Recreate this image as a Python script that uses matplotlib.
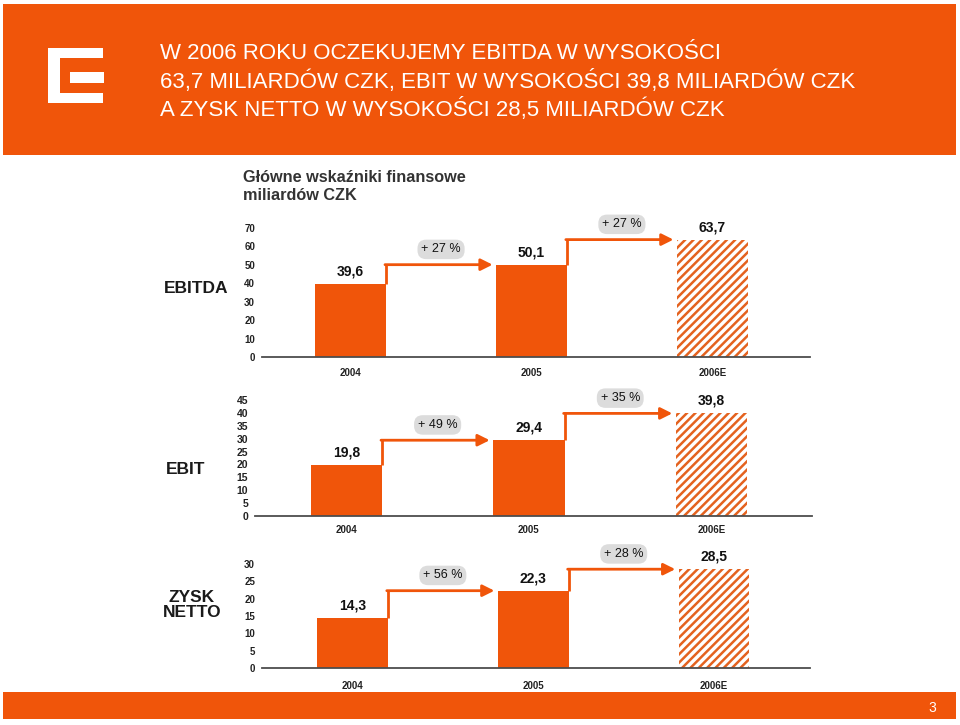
import matplotlib.pyplot as plt
from matplotlib.patches import Rectangle

plt.rcParams['font.family'] = ['Liberation Sans', 'DejaVu Sans']
plt.rcParams['hatch.linewidth'] = 1.8

# dane (miliardy CZK)
years = ['2004', '2005', '2006E']
ebitda = [39.6, 50.1, 63.7]
ebit = [19.8, 29.4, 39.8]
zysk = [14.3, 22.3, 28.5]
growth_ebitda = ['+ 27 %', '+ 27 %']
growth_ebit = ['+ 49 %', '+ 35 %']
growth_zysk = ['+ 56 %', '+ 28 %']

title_lines = ['W 2006 ROKU OCZEKUJEMY EBITDA W WYSOKOŚCI',
               '63,7 MILIARDÓW CZK, EBIT W WYSOKOŚCI 39,8 MILIARDÓW CZK',
               'A ZYSK NETTO W WYSOKOŚCI 28,5 MILIARDÓW CZK']

ORANGE = '#F0550A'
HATCH = '#E4621F'
GREY_PILL = '#DCDCDC'

W, H = 960, 725
fig = plt.figure(figsize=(9.6, 7.25), dpi=100)

# tło: pasek nagłówka, logo, stopka (współrzędne w pikselach)
bg = fig.add_axes([0, 0, 1, 1], zorder=0)
bg.set_xlim(0, W)
bg.set_ylim(H, 0)
bg.axis('off')
bg.add_patch(Rectangle((3, 4), 953, 151, color=ORANGE, lw=0))
bg.add_patch(Rectangle((3, 692), 953, 27, color=ORANGE, lw=0))
# logo CEZ
bg.add_patch(Rectangle((48, 48), 55, 55, color='white', lw=0))
bg.add_patch(Rectangle((60, 58), 43.5, 35, color=ORANGE, lw=0))
bg.add_patch(Rectangle((70, 72), 33.5, 11, color='white', lw=0))

for k, line in enumerate(title_lines):
    bg.text(160, 53 + 28 * k, line, color='white', fontsize=16,
            ha='left', va='center')
bg.text(932, 708, '3', color='white', fontsize=10, ha='center', va='center')

bg.text(243, 177, 'Główne wskaźniki finansowe', fontsize=11.7, fontweight='bold',
        color='#333333', ha='left', va='center')
bg.text(243, 195, 'miliardów CZK', fontsize=11.7, fontweight='bold',
        color='#333333', ha='left', va='center')

bg.text(196, 288, 'EBITDA', fontsize=12.5, fontweight='bold', ha='center',
        va='center', color='#1a1a1a')
bg.text(186, 469, 'EBIT', fontsize=12.5, fontweight='bold', ha='center',
        va='center', color='#1a1a1a')
bg.text(192, 605, 'ZYSK\nNETTO', fontsize=12.5, fontweight='bold', ha='center',
        va='center', color='#1a1a1a', linespacing=0.95)


def panel(px, values, growth, ymax, step, xlim, tick_fs, year_pad):
    x0, x1, ytop, ybot = px
    ax = fig.add_axes([x0 / W, 1 - ybot / H, (x1 - x0) / W, (ybot - ytop) / H],
                      zorder=1)
    ax.patch.set_alpha(0)
    width = 0.39
    xs = range(len(values))
    for i, v in enumerate(values):
        if i < len(values) - 1:
            ax.bar(i, v, width=width, color=ORANGE, lw=0)
        else:
            ax.bar(i, v, width=width, facecolor='white', edgecolor=HATCH,
                   hatch='////', lw=0)
        ax.annotate(f'{v:.1f}'.replace('.', ','), (i, v), xytext=(0, 9),
                    textcoords='offset points', ha='center', va='center',
                    fontsize=10, fontweight='bold', color='#111111',
                    annotation_clip=False)
    # strzałki wzrostu
    for i, g in enumerate(growth):
        xr = i + width / 2
        xl = i + 1 - width / 2
        ax.plot([xr, xr], [values[i], values[i + 1]], color=ORANGE, lw=2,
                solid_capstyle='butt', clip_on=False)
        ax.annotate('', xy=(xl - 0.02, values[i + 1]), xytext=(xr - 0.005, values[i + 1]),
                    arrowprops=dict(arrowstyle='-|>,head_length=0.7,head_width=0.35',
                                    color=ORANGE, lw=2, shrinkA=0, shrinkB=0),
                    annotation_clip=False)
        ax.annotate(g, ((xr + xl) / 2, values[i + 1]), xytext=(0, 11),
                    textcoords='offset points', ha='center', va='center',
                    fontsize=9, color='#111111', annotation_clip=False,
                    bbox=dict(boxstyle='round,pad=0.3,rounding_size=0.7',
                              fc=GREY_PILL, ec='none'))
    ax.set_xlim(*xlim)
    ax.set_ylim(0, ymax)
    ax.set_yticks(range(0, ymax + 1, step))
    ax.set_xticks(list(xs))
    ax.set_xticklabels(years)
    for s in ['top', 'right', 'left']:
        ax.spines[s].set_visible(False)
    ax.spines['bottom'].set_color('#4D4D4D')
    ax.spines['bottom'].set_linewidth(1.3)
    ax.tick_params(axis='both', length=0)
    ax.tick_params(axis='y', labelsize=tick_fs, pad=5)
    ax.tick_params(axis='x', labelsize=7, pad=year_pad)
    for lab in ax.get_yticklabels() + ax.get_xticklabels():
        lab.set_fontweight('bold')
        lab.set_color('#222222')
    return ax


panel((262, 810, 228, 357), ebitda, growth_ebitda, 70, 10, (-0.49, 2.54), 7, 8)
panel((255, 812, 400, 516), ebit, growth_ebit, 45, 5, (-0.50, 2.55), 7.5, 6.5)
panel((262, 810, 564, 668), zysk, growth_zysk, 30, 5, (-0.50, 2.53), 7, 9.5)

fig.savefig('out.png', dpi=100)
